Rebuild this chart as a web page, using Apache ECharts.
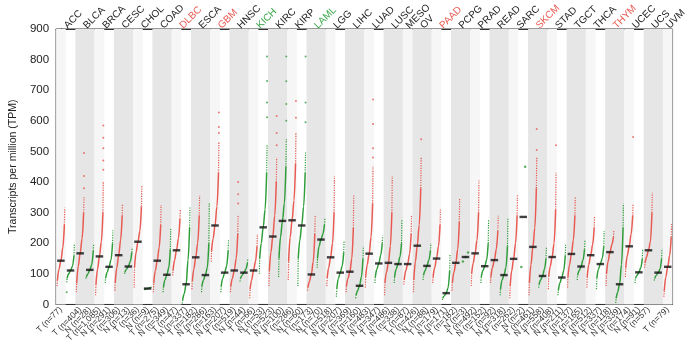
<!DOCTYPE html>
<html><head><meta charset="utf-8">
<script src="https://cdn.jsdelivr.net/npm/echarts@6/dist/echarts.min.js"></script>
<style>html,body{margin:0;padding:0;background:#fff}#c{width:689px;height:345px}</style>
</head><body><div id="c"></div>
<script>
// ---------- data ----------
const cancers = ['ACC','BLCA','BRCA','CESC','CHOL','COAD','DLBC','ESCA','GBM','HNSC','KICH','KIRC','KIRP','LAML','LGG','LIHC','LUAD','LUSC','MESO','OV','PAAD','PCPG','PRAD','READ','SARC','SKCM','STAD','TGCT','THCA','THYM','UCEC','UCS','UVM'];
const upInTumor = ['DLBC','GBM','PAAD','SKCM','THYM'];
const downInTumor = ['KICH','LAML'];
const colCancer = ['ACC','ACC','BLCA','BLCA','BRCA','BRCA','CESC','CESC','CHOL','CHOL','COAD','COAD','DLBC','DLBC','ESCA','ESCA','GBM','GBM','HNSC','HNSC','KICH','KICH','KIRC','KIRC','KIRP','KIRP','LAML','LAML','LGG','LGG','LIHC','LIHC','LUAD','LUAD','LUSC','LUSC','MESO','OV','OV','PAAD','PAAD','PCPG','PCPG','PRAD','PRAD','READ','READ','SARC','SARC','SKCM','SKCM','STAD','STAD','TGCT','TGCT','THCA','THCA','THYM','THYM','UCEC','UCEC','UCS','UCS','UVM'];
const colGroup = ['T','N','T','N','T','N','T','N','T','N','T','N','T','N','T','N','T','N','T','N','T','N','T','N','T','N','T','N','T','N','T','N','T','N','T','N','T','T','N','T','N','T','N','T','N','T','N','T','N','T','N','T','N','T','N','T','N','T','N','T','N','T','N','T'];
const colN = [77,128,404,28,1085,291,306,13,36,9,275,349,47,337,182,286,163,207,519,44,66,53,523,100,286,60,173,70,518,207,369,160,483,347,486,338,87,426,88,179,171,182,3,492,152,92,318,262,2,461,558,408,211,137,165,512,337,118,339,174,91,57,78,79];
// quantiles of each column's TPM values (min, 5%, 25%, median, 75%, 95%, max of the dense curve)
const q00 = [60,72,40,84,30,70,45,100,55,48,40,40,95,3,50,40,140,40,40,75,20,100,60,90,80,60,45,120,60,25,40,20,55,70,30,70,65,40,80,70,15,45,null,60,70,70,30,20,null,30,55,50,30,55,80,55,50,60,5,90,70,120,78,25];
const q05 = [80,85,70,90,65,85,70,105,120,49,70,55,110,15,75,60,175,60,60,85,50,150,110,150,140,150,55,150,85,50,60,30,90,90,70,90,80,80,95,90,20,70,null,100,90,90,50,60,null,70,65,90,45,90,95,90,85,100,20,120,85,135,85,45];
const q25 = [115,100,125,100,115,105,120,115,170,50,110,80,145,35,115,80,215,85,85,95,80,200,170,220,220,210,75,190,120,85,85,45,130,115,105,115,110,140,110,120,28,105,null,135,110,120,80,110,null,130,80,125,70,130,110,130,115,140,40,160,95,155,95,90];
const medians = [143,111,167,113,157,123,161,124,205,52,143,97,177,66,154,96,258,104,111,104,111,252,222,273,275,258,98,212,154,104,107,61,166,134,136,132,132,192,126,150,37,136,155,167,125,145,96,149,286,188,93,155,88,165,124,161,132,171,66,190,105,177,104,123];
const q75 = [185,125,215,130,205,145,210,140,240,54,185,120,215,145,200,120,320,125,150,115,140,310,290,330,340,320,140,230,200,125,150,90,220,160,190,155,165,260,145,190,55,180,null,210,145,180,120,200,null,250,115,200,110,210,145,195,150,195,130,230,120,205,115,160];
const q95 = [260,160,300,175,300,200,290,170,320,56,260,180,280,250,290,200,430,175,230,135,190,430,400,450,460,430,230,260,300,170,250,150,330,200,300,200,230,380,175,260,110,270,null,300,200,240,190,290,null,380,150,310,160,290,180,250,190,220,250,290,150,300,150,220];
const q100 = [316,198,350,198,400,242,330,185,390,58,325,250,310,320,355,330,530,210,290,150,230,520,480,540,560,500,290,280,420,210,360,190,450,225,420,275,290,480,200,310,165,345,null,405,275,290,280,360,null,480,185,430,195,350,210,290,240,240,330,330,180,365,182,265];
// isolated high / low samples
const outlierCol = [1,2,2,2,4,4,4,4,4,16,16,16,18,18,18,21,21,21,21,22,22,22,23,23,23,23,24,24,25,25,25,32,32,32,32,37,49,49,51,59];
const outlierVal = [40,380,420,495,440,470,510,545,585,560,580,627,330,360,400,612,660,730,810,520,560,616,600,655,729,810,610,665,595,660,810,480,510,590,670,540,505,573,520,547];
// columns with very few samples, drawn as single points
const pointCol = [42,42,42,48,48];
const pointVal = [140,155,170,122,450];
const yTicks = [0,100,200,300,400,500,600,700,800,900];

// ---------- styling / build ----------
const RED = '#e85a52', GREEN = '#2f9e3a';
const SPAN = 0.8;
const xAt = (c, f) => c + (f - 0.5) * SPAN;
const BRK = ['-', '-'];
const body = {T: [], N: []}, tails = {T: [], N: []}, outs = {T: [], N: []};
for (let c = 0; c < colN.length; c++) {
  if (q05[c] == null) continue;
  const g = colGroup[c];
  const fr = [0.05, 0.25, 0.5, 0.75, 0.95];
  const vals = [q05[c], q25[c], medians[c], q75[c], q95[c]];
  fr.forEach((f, i) => body[g].push([xAt(c, f), vals[i]]));
  body[g].push(BRK);
  tails[g].push([xAt(c, 0), q00[c]], [xAt(c, 0.05), q05[c]], BRK);
  tails[g].push([xAt(c, 0.95), q95[c]], [xAt(c, 1), q100[c]], BRK);
}
outlierCol.forEach((c, i) => {
  const v = outlierVal[i];
  outs[colGroup[c]].push([v < medians[c] ? xAt(c, 0) : xAt(c, 1), v]);
});
const small = {T: [], N: []};
pointCol.forEach((c, i) => {
  const same = pointCol.filter(x => x === c).length;
  const k = pointCol.slice(0, i).filter(x => x === c).length;
  small[colGroup[c]].push([xAt(c, (k + 0.5) / same), pointVal[i]]);
});

// cancer spans
const spans = cancers.map(name => {
  const idx = colCancer.map((n, i) => n === name ? i : -1).filter(i => i >= 0);
  return {name, start: idx[0], end: idx[idx.length - 1]};
});
const bands = [];
spans.forEach((s, k) => {
  if (k % 2 === 1) {
    bands.push([{xAxis: s.start - 0.5, itemStyle: {color: '#e6e6e6'}}, {xAxis: s.end + 0.5}]);
  } else {
    bands.push([{xAxis: s.start - 0.5, itemStyle: {color: '#f6f6f6'}}, {xAxis: s.start + 0.5}]);
  }
});
const centers = spans.map(s => (s.start + s.end) / 2);
const nameAt = v => { const s = spans.find(s => Math.abs((s.start + s.end) / 2 - v) < 0.01); return s ? s.name : ''; };

const FONT = 'Liberation Sans, Arial, Helvetica, sans-serif';
const chart = echarts.init(document.getElementById('c'), null, {renderer: 'canvas'});
const lineS = (data, color, dotted, w) => ({
  type: 'line', data, showSymbol: false, smooth: 0.35, smoothMonotone: 'x', connectNulls: false,
  lineStyle: {color, width: w, type: dotted ? 'dotted' : 'solid'}, silent: true, animation: false, z: 3
});
const scatS = (data, color, size) => ({type: 'scatter', data, symbolSize: size, itemStyle: {color}, silent: true, animation: false, z: 3});

chart.setOption({
  animation: false,
  textStyle: {fontFamily: FONT},
  grid: {left: 41, right: 12, top: 29, bottom: 37, show: true, borderColor: '#333', borderWidth: 1, backgroundColor: 'transparent'},
  xAxis: [
    {type: 'value', position: 'bottom', min: -0.5, max: 63.5, splitLine: {show: false},
     axisLine: {show: true, onZero: false, lineStyle: {color: '#333', width: 1}}, axisTick: {show: false},
     axisLabel: {customValues: colN.map((_, i) => i), rotate: 45, fontSize: 8.5, color: '#333', margin: 4, fontFamily: FONT, hideOverlap: false,
       showMinLabel: true, showMaxLabel: true,
       formatter: v => { const i = Math.round(v); return colGroup[i] + ' (n=' + colN[i].toLocaleString('en-US') + ')'; }}},
    {type: 'value', position: 'top', min: -0.5, max: 63.5, splitLine: {show: false},
     axisLine: {show: true, onZero: false, lineStyle: {color: '#333', width: 1}}, axisTick: {show: false},
     axisLabel: {customValues: centers, rotate: -45, fontSize: 10, margin: 2, fontFamily: FONT, hideOverlap: false,
       showMinLabel: true, showMaxLabel: true,
       formatter: v => { const n = nameAt(v); const k = upInTumor.includes(n) ? 'r' : downInTumor.includes(n) ? 'g' : 'k'; return '{' + k + '|' + n + '}'; },
       rich: {r: {color: RED, fontSize: 10, fontFamily: FONT}, g: {color: '#3aa64a', fontSize: 10, fontFamily: FONT}, k: {color: '#222', fontSize: 10, fontFamily: FONT}}}}
  ],
  yAxis: [
    {type: 'value', min: yTicks[0], max: yTicks[yTicks.length - 1], interval: 100, splitLine: {show: false},
     axisLine: {show: true, lineStyle: {color: '#222', width: 1}}, axisTick: {show: true, length: 4, lineStyle: {color: '#222'}},
     axisLabel: {fontSize: 11.5, color: '#222', margin: 7, fontFamily: FONT},
     name: 'Transcripts per million (TPM)', nameLocation: 'middle', nameGap: 32,
     nameTextStyle: {fontSize: 10.5, color: '#222', fontFamily: FONT}},
    {type: 'value', position: 'right', min: 0, max: 900, interval: 100, splitLine: {show: false},
     axisLine: {show: true, lineStyle: {color: '#333', width: 1}}, axisTick: {show: false}, axisLabel: {show: false}}
  ],
  series: [
    {type: 'line', data: [], silent: true, markArea: {silent: true, data: bands}, z: 1},
    lineS(tails.T, RED, true, 1.2),
    lineS(tails.N, GREEN, true, 1.2),
    lineS(body.T, RED, false, 1.5),
    lineS(body.N, GREEN, false, 1.5),
    scatS(outs.T, RED, 2),
    scatS(outs.N, GREEN, 2),
    scatS(small.T, RED, 2.5),
    scatS(small.N, GREEN, 2.5),
    {type: 'scatter', data: medians.map((m, c) => [c, m]), symbol: 'rect', symbolSize: [7.5, 2.4],
     itemStyle: {color: '#111'}, silent: true, z: 5}
  ]
});
</script></body></html>
